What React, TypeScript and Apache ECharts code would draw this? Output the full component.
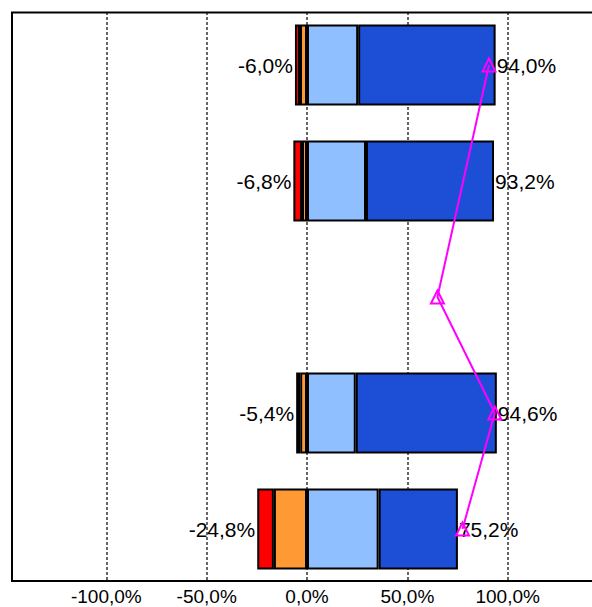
import React, { useEffect, useRef } from "react";
import * as echarts from "echarts";

const categories = ["Row 1", "Row 2", "", "Row 4", "Row 5"];
const orangeVals = [-3.5, -2.5, null, -3.4, -16.5];
const redVals = [-2.5, -4.3, null, -2.0, -8.3];
const lightBlueVals = [25.5, 29.4, null, 24.3, 35.7];
const darkBlueVals = [68.5, 63.8, null, 70.3, 39.5];
const negTotals = [-6.0, -6.8, null, -5.4, -24.8];
const posTotals = [94.0, 93.2, null, 94.6, 75.2];
const lineVals = [90.7, null, 65.0, 93.6, 77.5];
const tickValues = [-100, -50, 0, 50, 100];

const fmt = (v: number) => v.toFixed(1).replace(".", ",") + "%";

export default function App() {
  const ref = useRef<HTMLDivElement>(null);
  useEffect(() => {
    if (!ref.current) return;
    const chart = echarts.init(ref.current, null, { renderer: "svg" });
    const barCommon = {
      type: "bar",
      stack: "total",
      barWidth: "70%",
      itemStyle: { borderColor: "#000", borderWidth: 2 },
    };
    chart.setOption({
      animation: false,
      textStyle: { fontFamily: "Liberation Sans, Arial, sans-serif" },
      grid: { left: 6, width: 602, top: 7, height: 580, outerBoundsMode: "none", containLabel: false },
      xAxis: {
        type: "value",
        min: -150,
        max: 150,
        interval: 50,
        axisLine: { show: false },
        axisTick: { show: false },
        axisLabel: {
          show: true,
          showMinLabel: false,
          showMaxLabel: false,
          margin: 1,
          fontSize: 19,
          lineHeight: 16,
          color: "#000",
          formatter: (v: number) => (tickValues.includes(v) ? fmt(v) : ""),
        },
        splitLine: {
          show: true,
          showMinLine: false,
          showMaxLine: false,
          lineStyle: { color: "#333", type: [3, 2], width: 1.5 },
        },
      },
      yAxis: {
        type: "category",
        data: categories,
        inverse: true,
        axisLine: { show: false },
        axisTick: { show: false },
        axisLabel: { show: false },
        splitLine: { show: false },
      },
      series: [
        { ...barCommon, name: "orange", data: orangeVals, itemStyle: { ...barCommon.itemStyle, color: "#FF9933" } },
        {
          ...barCommon,
          name: "red",
          data: redVals,
          itemStyle: { ...barCommon.itemStyle, color: "#FF0000" },
          label: {
            show: true,
            position: "left",
            distance: 2,
            fontSize: 21,
            color: "#000",
            formatter: (p: any) => (negTotals[p.dataIndex] == null ? "" : fmt(negTotals[p.dataIndex] as number)),
          },
        },
        { ...barCommon, name: "lightblue", data: lightBlueVals, itemStyle: { ...barCommon.itemStyle, color: "#8FBFFF" } },
        {
          ...barCommon,
          name: "darkblue",
          data: darkBlueVals,
          itemStyle: { ...barCommon.itemStyle, color: "#1C4FD6" },
          label: {
            show: true,
            position: "right",
            distance: 1,
            fontSize: 21,
            color: "#000",
            formatter: (p: any) => (posTotals[p.dataIndex] == null ? "" : fmt(posTotals[p.dataIndex] as number)),
          },
        },
        {
          type: "line",
          name: "line",
          data: lineVals,
          connectNulls: true,
          symbol: "triangle",
          symbolSize: 13,
          z: 10,
          lineStyle: { color: "#FF00FF", width: 2 },
          itemStyle: { color: "rgba(255,255,255,0)", borderColor: "#FF00FF", borderWidth: 2 },
        },
      ],
      graphic: [
        { type: "rect", z: 100, shape: { x: 0, y: 0, width: 600, height: 11 }, style: { fill: "#fff" } },
        { type: "rect", z: 100, shape: { x: 0, y: 582, width: 600, height: 6 }, style: { fill: "#fff" } },
        { type: "line", z: 101, shape: { x1: 12, y1: 12, x2: 12, y2: 582 }, style: { stroke: "#000", lineWidth: 2 } },
        { type: "line", z: 101, shape: { x1: 11, y1: 12.5, x2: 600, y2: 12.5 }, style: { stroke: "#000", lineWidth: 2 } },
        { type: "line", z: 101, shape: { x1: 11, y1: 581, x2: 600, y2: 581 }, style: { stroke: "#000", lineWidth: 2 } },
      ],
    });
    return () => chart.dispose();
  }, []);
  return <div ref={ref} style={{ width: 592, height: 607, position: "absolute", left: 0, top: 0 }} />;
}
